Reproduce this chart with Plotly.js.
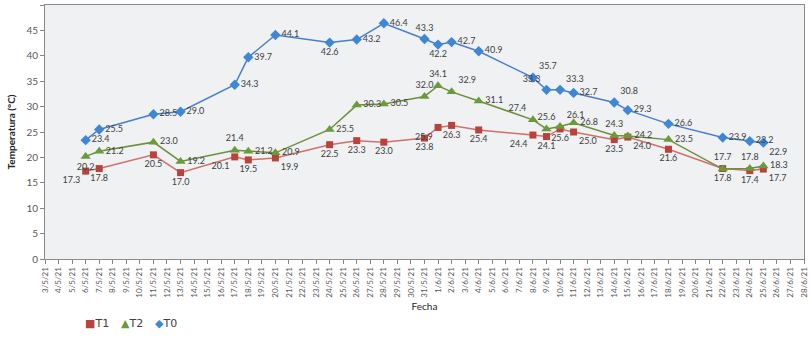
<!DOCTYPE html>
<html>
<head>
<meta charset="utf-8">
<script src="https://cdn.plot.ly/plotly-3.0.1.min.js"></script>
<style>html,body{margin:0;padding:0;background:#fff;}#chart{width:811px;height:346px;}</style>
</head>
<body>
<div id="chart"></div>
<script>
// All day tick labels on the x axis
const dayLabels = ["3/5/21","4/5/21","5/5/21","6/5/21","7/5/21","8/5/21","9/5/21","10/5/21","11/5/21","12/5/21","13/5/21","14/5/21","15/5/21","16/5/21","17/5/21","18/5/21","19/5/21","20/5/21","21/5/21","22/5/21","23/5/21","24/5/21","25/5/21","26/5/21","27/5/21","28/5/21","29/5/21","30/5/21","31/5/21","1/6/21","2/6/21","3/6/21","4/6/21","5/6/21","6/6/21","7/6/21","8/6/21","9/6/21","10/6/21","11/6/21","12/6/21","13/6/21","14/6/21","15/6/21","16/6/21","17/6/21","18/6/21","19/6/21","20/6/21","21/6/21","22/6/21","23/6/21","24/6/21","25/6/21","26/6/21","27/6/21","28/6/21"];

// Measurement dates
const fechas = ["6/5/21","7/5/21","11/5/21","13/5/21","17/5/21","18/5/21","20/5/21","24/5/21","26/5/21","28/5/21","31/5/21","1/6/21","2/6/21","4/6/21","8/6/21","9/6/21","10/6/21","11/6/21","14/6/21","15/6/21","18/6/21","22/6/21","24/6/21","25/6/21"];

const T1 = [17.3,17.8,20.5,17.0,20.1,19.5,19.9,22.5,23.3,23.0,23.8,25.9,26.3,25.4,24.4,24.1,25.6,25.0,23.5,24.0,21.6,17.8,17.4,17.7];
const T2 = [20.2,21.2,23.0,19.2,21.4,21.2,20.9,25.5,30.3,30.5,32.0,34.1,32.9,31.1,27.4,25.6,26.1,26.8,24.3,24.2,23.5,17.7,17.8,18.3];
const T0 = [23.4,25.5,28.5,29.0,34.3,39.7,44.1,42.6,43.2,46.4,43.3,42.2,42.7,40.9,35.7,33.3,33.3,32.7,30.8,29.3,26.6,23.9,23.2,22.9];

const yTicks = [0,5,10,15,20,25,30,35,40,45,50];

const seriesNames = ["T1","T2","T0"];
const legendSymbols = ["■","▲","◆"];

// Data-label placement (style only)
const posT1 = ["bottom left","bottom center","bottom center","bottom center","bottom left","bottom center","bottom right","bottom center","bottom center","bottom center","bottom center","bottom left","bottom center","bottom center","bottom left","bottom center","bottom center","bottom right","bottom center","bottom right","bottom center","bottom center","bottom center","bottom right"];
const posT2 = ["bottom center","middle right","middle right","middle right","top center","middle right","middle right","middle right","middle right","middle right","top center","top center","top right","middle right","top left","top center","top right","middle right","top center","middle right","middle right","top center","top center","middle right"];
const posT0 = ["middle right","middle right","middle right","middle right","middle right","middle right","middle right","bottom center","middle right","middle right","top center","bottom center","middle right","middle right","top right","top left","top right","middle right","top right","middle right","middle right","middle right","middle right","bottom right"];

const labelFont = {family: "Lato, 'Liberation Sans', sans-serif", size: 9, color: "#404040"};

const colors = ["#b8423c", "#6a9a3a", "#3e86d6"];

const traces = [
  {
    x: fechas, y: T1, name: "T1", type: "scatter", mode: "lines+markers+text",
    line: {color: "#d0706a", width: 1.5},
    marker: {symbol: "square", size: 7, color: colors[0]},
    text: T1.map(v => v.toFixed(1)), textposition: posT1,
    textfont: labelFont, showlegend: false, cliponaxis: false
  },
  {
    x: fechas, y: T2, name: "T2", type: "scatter", mode: "lines+markers+text",
    line: {color: "#6e8e3a", width: 1.5},
    marker: {symbol: "triangle-up", size: 9, color: colors[1]},
    text: T2.map(v => v.toFixed(1)), textposition: posT2,
    textfont: labelFont, showlegend: false, cliponaxis: false
  },
  {
    x: fechas, y: T0, name: "T0", type: "scatter", mode: "lines+markers+text",
    line: {color: "#4a7ec6", width: 1.5},
    marker: {symbol: "diamond", size: 8, color: colors[2]},
    text: T0.map(v => v.toFixed(1)), textposition: posT0,
    textfont: labelFont, showlegend: false, cliponaxis: false
  }
];

// Legend drawn as text annotations (compact Excel-style legend)
const legendX = [0.050, 0.098, 0.142];
const annotations = seriesNames.map((n, i) => ({
  xref: "paper", yref: "paper", x: legendX[i], y: -0.252,
  xanchor: "left", yanchor: "middle", showarrow: false,
  text: '<span style="color:' + colors[i] + '">' + legendSymbols[i] + '</span>' + n,
  font: {family: "'DejaVu Sans', sans-serif", size: 11, color: "#404040"}
}));

const layout = {
  width: 811, height: 346,
  margin: {l: 45, r: 7, t: 5, b: 87},
  paper_bgcolor: "#ffffff",
  plot_bgcolor: "#eff1f3",
  font: {family: "Lato, 'Liberation Sans', sans-serif", size: 10, color: "#595959"},
  showlegend: false,
  annotations: annotations,
  xaxis: {
    type: "category",
    categoryorder: "array", categoryarray: dayLabels,
    tickvals: dayLabels, ticktext: dayLabels,
    range: [0, dayLabels.length - 1],
    tickangle: -90,
    tickfont: {size: 8, color: "#595959"},
    ticks: "outside", ticklen: 4, tickcolor: "#868686",
    showline: true, linecolor: "#8a8a8a", linewidth: 1, mirror: true,
    showgrid: false, zeroline: false,
    title: {text: "Fecha", font: {size: 10, color: "#262626"}, standoff: 6},
    automargin: false
  },
  yaxis: {
    range: [0, 50],
    tickvals: yTicks,
    tickfont: {size: 10, color: "#595959"},
    ticks: "outside", ticklen: 4, tickcolor: "#868686",
    showline: true, linecolor: "#8a8a8a", linewidth: 1, mirror: true,
    showgrid: false, zeroline: false,
    title: {text: "<b>Temperatura (°C)</b>", font: {size: 10, color: "#262626"}, standoff: 8},
    automargin: false
  }
};

Plotly.newPlot("chart", traces, layout, {displayModeBar: false, staticPlot: true});
</script>
</body>
</html>
